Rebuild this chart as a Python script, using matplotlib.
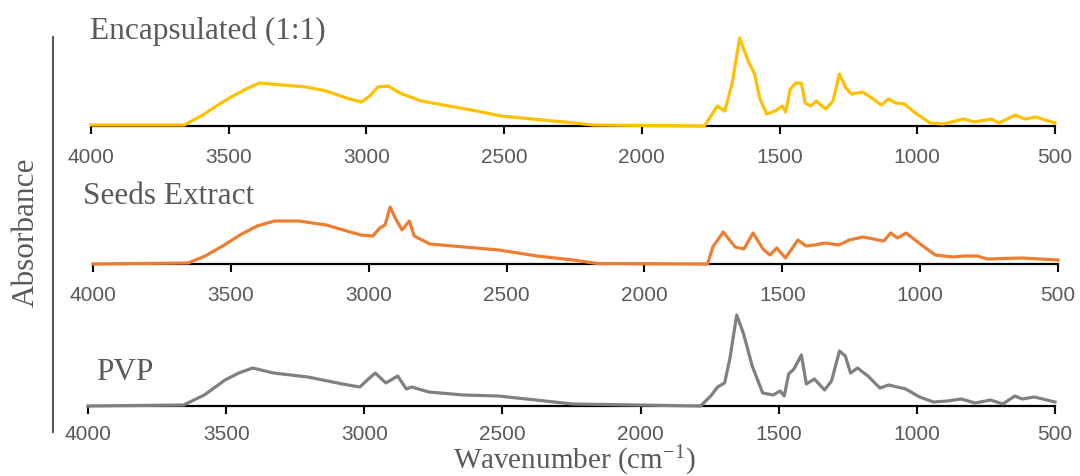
import matplotlib
matplotlib.use("Agg")
import matplotlib.pyplot as plt
from matplotlib.lines import Line2D

# ---- data ----
enc_wn = [4000, 3848, 3661, 3600, 3545, 3485, 3430, 3388, 3303, 3218, 3146, 3073, 3018, 2988, 2958, 2921, 2879,
          2850, 2800, 2700, 2600, 2512, 2243, 2176, 1773, 1726, 1699, 1672, 1645, 1614, 1591, 1571, 1547,
          1517, 1490, 1478, 1461, 1441, 1421, 1407, 1387, 1367, 1333, 1306, 1283, 1259, 1239, 1198,
          1165, 1131, 1105, 1078, 1047, 1007, 953, 906, 832, 792, 731, 704, 644, 610, 570, 500]
enc_abs = [1, 1, 1, 10, 20, 30, 38, 43, 41, 39, 35, 28, 24, 30, 39, 40, 33,
           30, 25, 20, 15, 10, 3, 1, 0, 20, 15, 43, 88, 65, 52, 27, 12,
           15, 20, 14, 37, 43, 43, 23, 20, 25, 17, 25, 52, 38, 32, 34,
           28, 21, 27, 23, 22, 13, 3, 2, 7, 4, 7, 3, 11, 7, 9, 3]

seed_wn = [4000, 3655, 3593, 3530, 3467, 3405, 3342, 3254, 3154, 3092, 3029, 2985, 2960, 2941, 2922,
           2904, 2879, 2853, 2835, 2778, 2653, 2528, 2390, 2259, 2171, 1771, 1752, 1714, 1671, 1639,
           1606, 1570, 1545, 1520, 1489, 1443, 1414, 1383, 1345, 1295, 1257, 1207, 1132, 1107, 1082,
           1051, 995, 945, 882, 838, 794, 757, 631, 500]
seed_abs = [0, 1, 8, 18, 29, 38, 43, 43, 39, 34, 29, 28, 36, 39, 57,
            46, 34, 43, 28, 20, 17, 14, 8, 4, 0.5, 0, 17, 32, 17, 15,
            31, 15, 9, 16, 6, 24, 18, 19, 21, 19, 24, 27, 23, 31, 26,
            31, 19, 9, 7, 8, 8, 5, 6, 4]

pvp_wn = [4000, 3654, 3579, 3504, 3454, 3404, 3329, 3204, 3079, 3016, 2985, 2960, 2922, 2879, 2848,
          2829, 2766, 2641, 2516, 2379, 2247, 1783, 1746, 1721, 1696, 1677, 1652, 1627, 1596, 1558,
          1520, 1495, 1480, 1464, 1445, 1418, 1400, 1371, 1334, 1309, 1280, 1259, 1240, 1215, 1177,
          1134, 1102, 1040, 990, 940, 889, 839, 789, 733, 689, 645, 619, 575, 500]
pvp_abs = [0, 1, 11, 26, 33, 38, 33, 29, 22, 19, 27, 33, 23, 30, 17,
           19, 14, 11, 10, 6, 2, 0, 10, 19, 23, 47, 91, 72, 40, 13,
           11, 15, 10, 32, 37, 51, 22, 27, 16, 25, 55, 50, 33, 38, 30,
           18, 21, 17, 9, 4, 5, 7, 3, 6, 2, 10, 7, 9, 4]

titles = ["Encapsulated (1:1)", "Seeds Extract", "PVP"]
ticks = [4000, 3500, 3000, 2500, 2000, 1500, 1000, 500]
tick_labels = [str(t) for t in ticks]
colors = ["#FFC000", "#ED7D31", "#808080"]

W, H = 1080, 477
fig = plt.figure(figsize=(W / 100, H / 100), dpi=100)

plt.rcParams['mathtext.fontset'] = 'custom'
plt.rcParams['mathtext.rm'] = 'Liberation Serif'
plt.rcParams['mathtext.it'] = 'Liberation Serif:italic'

# (left_px, right_px, baseline_px, title_x_px, title_baseline_px, tick_pad)
layout = [(91, 1055, 127, 90, 39, 9),
          (93, 1058, 265, 83, 204, 9),
          (88, 1055, 407, 96, 380, 7)]
series = [(enc_wn, enc_abs), (seed_wn, seed_abs), (pvp_wn, pvp_abs)]

text_gray = "#595959"
serif_size = 22.5
for (l, r, b, tx, ty, pad), (wn, ab), col, title in zip(layout, series, colors, titles):
    ax = fig.add_axes([l / W, 1 - b / H, (r - l) / W, 100 / H])
    ax.patch.set_alpha(0)
    ax.plot(wn, ab, color=col, lw=2.3, zorder=3, clip_on=False)
    ax.set_xlim(4000, 500)
    ax.set_ylim(0, 100)
    for s in ["left", "right", "top"]:
        ax.spines[s].set_visible(False)
    ax.spines["bottom"].set_linewidth(1.6)
    ax.spines["bottom"].set_color("black")
    ax.set_yticks([])
    ax.set_xticks(ticks)
    ax.set_xticklabels(tick_labels, family="Liberation Sans")
    ax.tick_params(axis="x", direction="out", length=6, width=1.5, color="black",
                   pad=pad, labelsize=15, labelcolor=text_gray)
    fig.text(tx / W, 1 - ty / H, title, family="Liberation Serif", fontsize=serif_size,
             color=text_gray, va="baseline", ha="left")

# left vertical line and y label
fig.add_artist(Line2D([53 / W, 53 / W], [1 - 38 / H, 1 - 433 / H], color=text_gray, lw=1.5))
fig.text(26 / W, 1 - 232 / H, "Absorbance", family="Liberation Serif", fontsize=serif_size,
         color=text_gray, rotation=90, va="center", ha="center")
fig.text(574 / W, 1 - 469 / H, r"Wavenumber (cm$^{\mathrm{-1}}$)", family="Liberation Serif",
         fontsize=21, color=text_gray, va="baseline", ha="center")

fig.savefig("out.png", dpi=100)
